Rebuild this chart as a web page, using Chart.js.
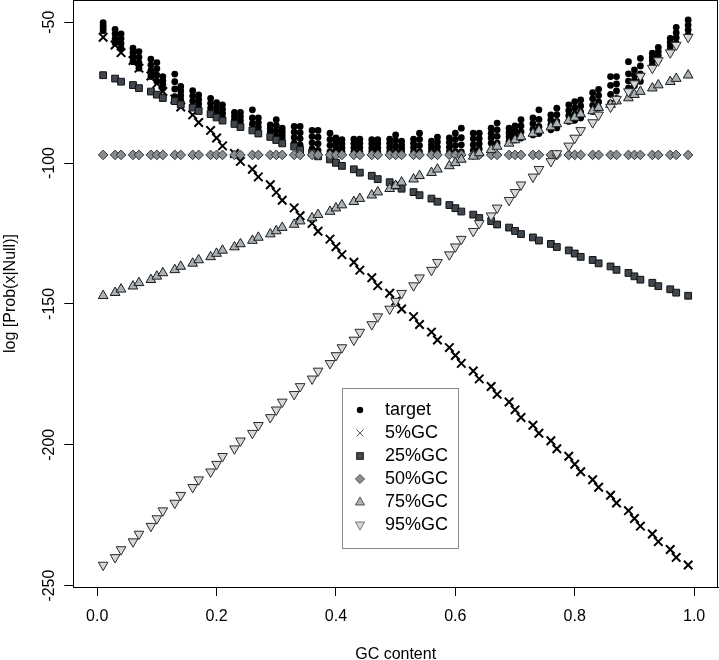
<!DOCTYPE html>
<html><head><meta charset="utf-8">
<script src="https://cdn.jsdelivr.net/npm/chart.js@4.4.1/dist/chart.umd.min.js"></script>
<style>html,body{margin:0;padding:0;background:#fff;}#wrap{width:719px;height:660px;}</style>
</head><body><div id="wrap"><canvas id="c" width="719" height="660"></canvas></div>
<script>
// GC content of each sequence (x axis)
const gcContent = [0.01,0.03,0.04,0.06,0.07,0.09,0.10,0.11,0.13,0.14,0.16,0.17,0.19,0.20,0.21,0.23,0.24,0.26,0.27,0.29,0.30,0.31,0.33,0.34,0.36,0.37,0.39,0.40,0.41,0.43,0.44,0.46,0.47,0.49,0.50,0.51,0.53,0.54,0.56,0.57,0.59,0.60,0.61,0.63,0.64,0.66,0.67,0.69,0.70,0.71,0.73,0.74,0.76,0.77,0.79,0.80,0.81,0.83,0.84,0.86,0.87,0.89,0.90,0.91,0.93,0.94,0.96,0.97,0.99];

// target: several observed values per GC content (column of dots)
const targetTop = [-50.1,-52.5,-54.1,-59.2,-60.4,-63.1,-64.3,-69.3,-68.4,-72.8,-74.3,-75.8,-77.0,-78.5,-79.3,-82.0,-82.0,-81.1,-84.0,-86.4,-84.6,-87.6,-87.0,-87.0,-88.4,-88.4,-89.4,-91.1,-91.7,-91.5,-91.5,-91.7,-91.7,-91.5,-90.0,-92.2,-91.5,-89.4,-92.2,-90.8,-91.1,-89.4,-87.6,-89.4,-89.4,-87.6,-85.8,-87.6,-86.8,-84.6,-84.0,-81.1,-82.9,-80.5,-79.3,-78.2,-77.6,-75.0,-73.8,-69.3,-69.3,-64.0,-66.9,-62.8,-61.0,-58.9,-55.7,-51.8,-49.2];
const targetA = [-51.1,-54.1,-55.8,-60.8,-62.4,-65.2,-66.5,-70.7,-71.1,-74.4,-76.2,-77.4,-78.8,-80.2,-80.9,-83.3,-83.5,-84.0,-85.6,-87.6,-86.6,-88.8,-89.0,-89.2,-90.6,-90.8,-91.6,-92.7,-93.1,-93.0,-93.0,-93.1,-93.1,-93.0,-92.0,-93.5,-93.0,-91.6,-93.5,-92.5,-92.7,-91.6,-91.0,-91.4,-91.3,-89.4,-88.2,-89.2,-88.5,-86.8,-86.0,-84.5,-84.7,-82.8,-81.3,-80.4,-79.7,-77.2,-76.0,-72.4,-71.9,-68.3,-68.8,-65.5,-62.4,-60.4,-57.1,-53.7,-51.0];
const targetB = [-52.0,-55.8,-57.5,-62.4,-64.3,-67.2,-68.8,-72.0,-73.7,-76.0,-78.0,-78.9,-80.5,-81.8,-82.4,-84.5,-84.9,-86.1,-87.2,-88.8,-88.6,-89.9,-90.9,-91.3,-92.8,-93.1,-93.7,-94.4,-94.6,-94.5,-94.5,-94.6,-94.6,-94.5,-94.0,-94.7,-94.5,-93.8,-94.7,-94.3,-94.4,-93.8,-93.5,-93.5,-93.1,-91.1,-90.5,-90.7,-90.1,-88.9,-88.0,-87.0,-86.4,-85.2,-83.2,-82.6,-81.9,-79.5,-78.3,-75.6,-74.4,-70.9,-70.6,-68.3,-63.7,-61.9,-58.4,-55.5,-52.7];
const targetLow = [-53.0,-57.4,-59.2,-64.0,-66.3,-69.3,-71.0,-73.4,-76.4,-77.6,-79.9,-80.5,-82.3,-83.5,-84.0,-85.8,-86.4,-88.2,-88.8,-90.0,-90.6,-91.1,-92.9,-93.5,-95.0,-95.5,-95.9,-96.0,-96.0,-96.0,-96.0,-96.0,-96.0,-96.0,-96.0,-96.0,-96.0,-96.0,-96.0,-96.0,-96.0,-96.0,-96.0,-95.5,-95.0,-92.9,-92.9,-92.3,-91.8,-91.1,-90.0,-89.5,-88.2,-87.5,-85.2,-84.8,-84.0,-81.7,-80.5,-78.7,-77.0,-73.4,-72.5,-71.0,-65.1,-63.4,-59.8,-57.4,-54.5];

// null models
const gc5 = [-55.3,-58.1,-60.8,-63.6,-66.3,-69.1,-71.8,-74.6,-77.3,-80.1,-82.9,-85.6,-88.4,-91.1,-93.9,-96.6,-99.4,-102.2,-104.9,-107.7,-110.4,-113.2,-115.9,-118.7,-121.4,-124.2,-127.0,-129.7,-132.5,-135.2,-138.0,-140.7,-143.5,-146.2,-149.0,-151.8,-154.5,-157.3,-160.0,-162.8,-165.5,-168.3,-171.1,-173.8,-176.6,-179.3,-182.1,-184.8,-187.6,-190.3,-193.1,-195.9,-198.6,-201.4,-204.1,-206.9,-209.6,-212.4,-215.1,-217.9,-220.7,-223.4,-226.2,-228.9,-231.7,-234.4,-237.2,-240.0,-242.7];
const gc25 = [-68.8,-70.0,-71.1,-72.3,-73.4,-74.6,-75.7,-76.9,-78.0,-79.2,-80.3,-81.5,-82.6,-83.8,-84.9,-86.1,-87.2,-88.4,-89.5,-90.7,-91.8,-93.0,-94.1,-95.3,-96.4,-97.6,-98.7,-99.9,-101.0,-102.2,-103.4,-104.5,-105.7,-106.8,-108.0,-109.1,-110.3,-111.4,-112.6,-113.7,-114.9,-116.0,-117.2,-118.3,-119.5,-120.6,-121.8,-122.9,-124.1,-125.2,-126.4,-127.5,-128.7,-129.8,-131.0,-132.1,-133.3,-134.4,-135.6,-136.7,-137.9,-139.0,-140.2,-141.4,-142.5,-143.7,-144.8,-146.0,-147.1];
const gc50 = [-97.1,-97.1,-97.1,-97.1,-97.1,-97.1,-97.1,-97.1,-97.1,-97.1,-97.1,-97.1,-97.1,-97.1,-97.1,-97.1,-97.1,-97.1,-97.1,-97.1,-97.1,-97.1,-97.1,-97.1,-97.1,-97.1,-97.1,-97.1,-97.1,-97.1,-97.1,-97.1,-97.1,-97.1,-97.1,-97.1,-97.1,-97.1,-97.1,-97.1,-97.1,-97.1,-97.1,-97.1,-97.1,-97.1,-97.1,-97.1,-97.1,-97.1,-97.1,-97.1,-97.1,-97.1,-97.1,-97.1,-97.1,-97.1,-97.1,-97.1,-97.1,-97.1,-97.1,-97.1,-97.1,-97.1,-97.1,-97.1,-97.1];
const gc75 = [-147.1,-146.0,-144.8,-143.7,-142.5,-141.4,-140.2,-139.0,-137.9,-136.7,-135.6,-134.4,-133.3,-132.1,-131.0,-129.8,-128.7,-127.5,-126.4,-125.2,-124.1,-122.9,-121.8,-120.6,-119.5,-118.3,-117.2,-116.0,-114.9,-113.7,-112.6,-111.4,-110.3,-109.1,-108.0,-106.8,-105.7,-104.5,-103.4,-102.2,-101.0,-99.9,-98.7,-97.6,-96.4,-95.3,-94.1,-93.0,-91.8,-90.7,-89.5,-88.4,-87.2,-86.1,-84.9,-83.8,-82.6,-81.5,-80.3,-79.2,-78.0,-76.9,-75.7,-74.6,-73.4,-72.3,-71.1,-70.0,-68.8];
const gc95 = [-242.7,-240.0,-237.2,-234.4,-231.7,-228.9,-226.2,-223.4,-220.7,-217.9,-215.1,-212.4,-209.6,-206.9,-204.1,-201.4,-198.6,-195.9,-193.1,-190.3,-187.6,-184.8,-182.1,-179.3,-176.6,-173.8,-171.1,-168.3,-165.5,-162.8,-160.0,-157.3,-154.5,-151.8,-149.0,-146.2,-143.5,-140.7,-138.0,-135.2,-132.5,-129.7,-127.0,-124.2,-121.4,-118.7,-115.9,-113.2,-110.4,-107.7,-104.9,-102.2,-99.4,-96.6,-93.9,-91.1,-88.4,-85.6,-82.9,-80.1,-77.3,-74.6,-71.8,-69.1,-66.3,-63.6,-60.8,-58.1,-55.3];

const xTicks = [0, 0.2, 0.4, 0.6, 0.8, 1.0];
const yTicks = [-250, -200, -150, -100, -50];
const legendLabels = ['target', '5%GC', '25%GC', '50%GC', '75%GC', '95%GC'];

const FONT = "'Liberation Sans', Arial, Helvetica, sans-serif";
function pts(ys) { return gcContent.map((x, i) => ({ x: x, y: ys[i] })); }
const targetPts = [].concat(pts(targetTop), pts(targetA), pts(targetB), pts(targetLow));

const styles = {
  target: { fill: '#000000', stroke: '#000000' },
  gc5: { stroke: '#000000' },
  gc25: { fill: '#40474f', stroke: '#111111' },
  gc50: { fill: '#888d92', stroke: '#333333' },
  gc75: { fill: '#a9b2b7', stroke: '#1a1a1a' },
  gc95: { fill: '#d5d7d8', stroke: '#2a2a2a' }
};

function drawSym(ctx, kind, x, y) {
  ctx.save();
  ctx.beginPath();
  if (kind === 0) {
    ctx.fillStyle = '#000';
    ctx.arc(x, y, 3.2, 0, Math.PI * 2); ctx.fill();
  } else if (kind === 1) {
    const d = 3.4;
    ctx.strokeStyle = '#555'; ctx.lineWidth = 1;
    ctx.moveTo(x - d, y - d); ctx.lineTo(x + d, y + d);
    ctx.moveTo(x - d, y + d); ctx.lineTo(x + d, y - d); ctx.stroke();
  } else if (kind === 2) {
    ctx.fillStyle = styles.gc25.fill; ctx.strokeStyle = '#333'; ctx.lineWidth = 1;
    ctx.rect(x - 3.5, y - 3.5, 7, 7); ctx.fill(); ctx.stroke();
  } else if (kind === 3) {
    const r = 4.6;
    ctx.fillStyle = styles.gc50.fill; ctx.strokeStyle = '#555'; ctx.lineWidth = 1;
    ctx.moveTo(x - r, y); ctx.lineTo(x, y - r); ctx.lineTo(x + r, y); ctx.lineTo(x, y + r); ctx.closePath();
    ctx.fill(); ctx.stroke();
  } else if (kind === 4) {
    ctx.fillStyle = styles.gc75.fill; ctx.strokeStyle = '#555'; ctx.lineWidth = 1;
    ctx.moveTo(x, y - 5); ctx.lineTo(x + 4.6, y + 3); ctx.lineTo(x - 4.6, y + 3); ctx.closePath();
    ctx.fill(); ctx.stroke();
  } else {
    ctx.fillStyle = styles.gc95.fill; ctx.strokeStyle = '#777'; ctx.lineWidth = 1;
    ctx.moveTo(x, y + 5); ctx.lineTo(x + 4.6, y - 3); ctx.lineTo(x - 4.6, y - 3); ctx.closePath();
    ctx.fill(); ctx.stroke();
  }
  ctx.restore();
}

const rPlugin = {
  id: 'rstyle',
  afterDatasetsDraw(chart) {
    const ctx = chart.ctx, a = chart.chartArea;
    ctx.save();
    ctx.strokeStyle = '#000'; ctx.lineWidth = 1;
    const l = Math.round(a.left) + 0.5, t = Math.round(a.top) + 0.5;
    const r = Math.round(a.right) - 0.5, b = Math.round(a.bottom) + 0.5;
    ctx.strokeRect(l, t, r - l, b - t);
    ctx.restore();
  },
  afterDraw(chart) {
    const ctx = chart.ctx;
    ctx.save();
    ctx.fillStyle = '#fff';
    ctx.fillRect(342.5, 388.5, 116, 160);
    ctx.strokeStyle = '#8a8a8a'; ctx.lineWidth = 1;
    ctx.strokeRect(342.5, 388.5, 116, 160);
    ctx.font = '18px ' + FONT;
    ctx.textBaseline = 'middle';
    ctx.textAlign = 'left';
    legendLabels.forEach((lab, i) => {
      const y = 410 + 23 * i;
      drawSym(ctx, i, 360, y);
      ctx.fillStyle = '#000';
      ctx.fillText(lab, 385, y + 0.5);
    });
    ctx.restore();
  }
};

function noPad(s) { s.paddingTop = 0; s.paddingBottom = 0; s.paddingLeft = 0; s.paddingRight = 0; }

new Chart(document.getElementById('c'), {
  type: 'scatter',
  data: {
    datasets: [
      { label: 'target', data: targetPts, pointStyle: 'circle', pointRadius: 3.4, pointBackgroundColor: styles.target.fill, pointBorderColor: styles.target.stroke, pointBorderWidth: 0, order: 6 },
      { label: '5%GC', data: pts(gc5), pointStyle: 'crossRot', pointRadius: 6, pointBorderColor: styles.gc5.stroke, pointBorderWidth: 2, order: 5 },
      { label: '25%GC', data: pts(gc25), pointStyle: 'rect', pointRadius: 4.8, pointBackgroundColor: styles.gc25.fill, pointBorderColor: styles.gc25.stroke, pointBorderWidth: 1, order: 4 },
      { label: '50%GC', data: pts(gc50), pointStyle: 'rectRot', pointRadius: 4.8, pointBackgroundColor: styles.gc50.fill, pointBorderColor: styles.gc50.stroke, pointBorderWidth: 1, order: 3 },
      { label: '75%GC', data: pts(gc75), pointStyle: 'triangle', pointRadius: 5.6, pointBackgroundColor: styles.gc75.fill, pointBorderColor: styles.gc75.stroke, pointBorderWidth: 1, order: 2 },
      { label: '95%GC', data: pts(gc95), pointStyle: 'triangle', pointRotation: 180, pointRadius: 5.6, pointBackgroundColor: styles.gc95.fill, pointBorderColor: styles.gc95.stroke, pointBorderWidth: 1, order: 1 }
    ]
  },
  options: {
    responsive: false,
    animation: false,
    devicePixelRatio: 1,
    layout: { autoPadding: false, padding: { left: 0, right: 1, top: 0, bottom: 0 } },
    plugins: { legend: { display: false }, tooltip: { enabled: false } },
    scales: {
      x: {
        type: 'linear', position: 'bottom', min: -0.04, max: 1.04,
        afterBuildTicks(s) { s.ticks = xTicks.map(v => ({ value: v })); },
        afterFit(s) { s.height = 73; noPad(s); },
        grid: { display: true, drawOnChartArea: false, drawTicks: true, tickLength: 9, color: '#000', lineWidth: 1 },
        border: { display: true, color: '#000', width: 1 },
        ticks: { autoSkip: false, maxRotation: 0, minRotation: 0, padding: 11, color: '#000', font: { family: FONT, size: 16, lineHeight: 1.2 }, callback: v => Number(v).toFixed(1) },
        title: { display: true, text: 'GC content', color: '#000', font: { family: FONT, size: 16, lineHeight: 1 }, padding: { top: 0, bottom: -3 } }
      },
      y: {
        type: 'linear', position: 'left', min: -250.5, max: -42.1,
        afterBuildTicks(s) { s.ticks = yTicks.map(v => ({ value: v })); },
        afterFit(s) { s.width = 73.3; noPad(s); },
        grid: { display: true, drawOnChartArea: false, drawTicks: true, tickLength: 9, color: '#000', lineWidth: 1 },
        border: { display: true, color: '#000', width: 1 },
        ticks: { autoSkip: false, minRotation: 90, maxRotation: 90, crossAlign: 'center', padding: -1, color: '#000', font: { family: FONT, size: 16, lineHeight: 1.2 }, callback: v => String(v) },
        title: { display: true, text: 'log [Prob(x|Null)]', color: '#000', font: { family: FONT, size: 16, lineHeight: 1 }, padding: { top: 3, bottom: 0 } }
      }
    }
  },
  plugins: [rPlugin]
});
</script>
</body></html>
